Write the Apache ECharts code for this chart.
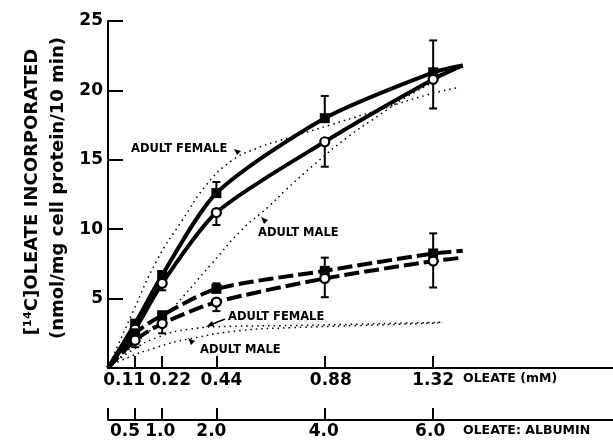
<!DOCTYPE html>
<html>
<head>
<meta charset="utf-8">
<script src="https://cdn.jsdelivr.net/npm/echarts@6/dist/echarts.min.js"></script>
<style>html,body{margin:0;padding:0;background:#fff}#c{width:613px;height:447px}</style>
</head>
<body>
<div id="c"></div>
<script>
// ---- data ----
const oleateMM = [0, 0.11, 0.22, 0.44, 0.88, 1.32, 1.44];
const femaleSolid = [0, 3.2, 6.7, 12.6, 18.0, 21.3, 21.8];
const maleSolid = [0, 2.8, 6.1, 11.2, 16.3, 20.8, 21.8];
const femaleDashed = [0, 2.5, 3.8, 5.7, 7.0, 8.25, 8.45];
const maleDashed = [0, 2.0, 3.2, 4.75, 6.45, 7.7, 7.95];

const errX = [0.11, 0.22, 0.44, 0.88, 1.32];
const femaleSolidErrTop = [null, null, 13.4, 19.6, 23.6];
const maleSolidErrBottom = [null, 5.6, 10.3, 14.5, 18.7];
const femaleDashedErrTop = [null, null, 6.1, 7.95, 9.7];
const maleDashedErrBottom = [1.5, 2.5, 4.1, 5.1, 5.8];

const femaleUpperDotX = [0, 0.1, 0.2, 0.3, 0.4, 0.5, 0.6, 0.7, 0.9, 1.1, 1.3, 1.42];
const femaleUpperDotY = [0, 4.0, 7.8, 10.6, 13.2, 14.9, 15.8, 16.4, 17.5, 18.6, 19.7, 20.2];
const maleUpperDotX = [0, 0.12, 0.24, 0.42, 0.54, 0.65, 0.72, 0.84, 0.97, 1.1, 1.2, 1.32];
const maleUpperDotY = [0, 1.9, 3.9, 7.5, 9.9, 11.6, 12.8, 14.7, 16.6, 18.2, 19.4, 20.6];
const femaleLowerDotX = [0, 0.1, 0.2, 0.33, 0.5, 0.7, 1.0, 1.36];
const femaleLowerDotY = [0, 1.3, 2.2, 2.8, 3.0, 3.05, 3.15, 3.3];
const maleLowerDotX = [0, 0.06, 0.2, 0.33, 0.54, 0.74, 1.0, 1.36];
const maleLowerDotY = [0, 0.6, 1.5, 2.1, 2.7, 2.9, 3.05, 3.25];

const mMTicks = [0.11, 0.22, 0.44, 0.88, 1.32];
const ratioTicks = [0, 0.5, 1.0, 2.0, 4.0, 6.0];
const ratioLabels = [0.5, 1.0, 2.0, 4.0, 6.0];
const ratioPerMM = 6.0 / 1.32;

// ---- helpers ----
const F = 'DejaVu Sans';
function pairs(xs, ys) { return xs.map((x, i) => [x, ys[i]]); }
function withBase(base, ends) {
  const out = [];
  errX.forEach((x, i) => { if (ends[i] != null) out.push([x, base[i + 1], ends[i]]); });
  return out;
}
function errSeries(data) {
  return {
    type: 'custom', xAxisIndex: 0, yAxisIndex: 0, z: 3, silent: true,
    encode: { x: 0, y: [1, 2] },
    renderItem: function (params, api) {
      const x = api.value(0), y0 = api.value(1), y1 = api.value(2);
      const p0 = api.coord([x, y0]), p1 = api.coord([x, y1]);
      return {
        type: 'group', children: [
          { type: 'line', shape: { x1: p0[0], y1: p0[1], x2: p1[0], y2: p1[1] }, style: { stroke: '#000', lineWidth: 2 } },
          { type: 'line', shape: { x1: p1[0] - 4, y1: p1[1], x2: p1[0] + 4, y2: p1[1] }, style: { stroke: '#000', lineWidth: 2 } }
        ]
      };
    },
    data: data
  };
}
function curve(xs, ys, style, smooth) {
  return {
    type: 'line', xAxisIndex: 0, yAxisIndex: 0, smooth: smooth,
    showSymbol: false, symbol: 'none', z: 2, silent: true, lineStyle: style, data: pairs(xs, ys)
  };
}
function markers(ys, symbol, filled) {
  return {
    type: 'scatter', xAxisIndex: 0, yAxisIndex: 0, z: 5, symbol: symbol, silent: true,
    symbolSize: symbol === 'rect' ? 10 : 9,
    itemStyle: filled ? { color: '#000', opacity: 1 } : { color: '#fff', borderColor: '#000', borderWidth: 2.2, opacity: 1 },
    data: pairs(oleateMM.slice(1, 6), ys.slice(1, 6))
  };
}

// label shifts (px) to mimic reference placement
const mMShift = { '0.11': -11, '0.22': 8, '0.44': 5, '0.88': 6, '1.32': 0 };
const ratioShift = { '0.5': -10, '1.0': -2, '2.0': -5, '4.0': -1, '6.0': -3 };
function richFor(shifts) {
  const r = {};
  Object.keys(shifts).forEach((k, i) => {
    const s = shifts[k];
    r['s' + i] = {
      fontFamily: F, fontWeight: 'bold', fontSize: 17, color: '#000',
      padding: s < 0 ? [0, -2 * s, 0, 0] : [0, 0, 0, 2 * s]
    };
  });
  return r;
}
function fmtFor(shifts, digits) {
  const keys = Object.keys(shifts);
  return function (v) {
    const t = v.toFixed(digits);
    const i = keys.indexOf(t);
    return i < 0 ? t : '{s' + i + '|' + t + '}';
  };
}

const labelStyle = { fontFamily: F, fontWeight: 'bold', fontSize: 11.5, fill: '#000' };
const dotStyle = { color: '#000', width: 1.5, type: [1.5, 4] };

const option = {
  animation: false,
  backgroundColor: '#fff',
  grid: { left: 108, right: 0, top: 21, bottom: 79, containLabel: false },
  xAxis: [
    {
      type: 'value', min: 0, max: 2.05, position: 'bottom',
      axisLine: { show: true, onZero: false, lineStyle: { color: '#000', width: 2 } },
      axisTick: { show: true, inside: true, length: 12, customValues: mMTicks, lineStyle: { color: '#000', width: 2 } },
      axisLabel: { show: true, customValues: mMTicks, margin: 4, formatter: fmtFor(mMShift, 2), rich: richFor(mMShift),
        fontFamily: F, fontWeight: 'bold', fontSize: 17, color: '#000' },
      splitLine: { show: false }
    },
    {
      type: 'value', min: 0, max: 2.05 * ratioPerMM, position: 'bottom', offset: 52,
      axisLine: { show: true, onZero: false, lineStyle: { color: '#000', width: 2 } },
      axisTick: { show: true, inside: true, length: 12, customValues: ratioTicks, lineStyle: { color: '#000', width: 2 } },
      axisLabel: { show: true, customValues: ratioLabels, margin: 3, formatter: fmtFor(ratioShift, 1), rich: richFor(ratioShift),
        fontFamily: F, fontWeight: 'bold', fontSize: 17, color: '#000' },
      splitLine: { show: false }
    }
  ],
  yAxis: {
    type: 'value', min: 0, max: 25, interval: 5,
    axisLine: { show: true, lineStyle: { color: '#000', width: 2 } },
    axisTick: { show: true, inside: true, length: 15, lineStyle: { color: '#000', width: 2 } },
    axisLabel: { margin: 5, fontFamily: F, fontWeight: 'bold', fontSize: 17, color: '#000',
      formatter: function (v) { return v === 0 ? '' : String(v); } },
    splitLine: { show: false }
  },
  series: [
    curve(femaleUpperDotX, femaleUpperDotY, dotStyle, 0.5),
    curve(maleUpperDotX, maleUpperDotY, dotStyle, 0.5),
    curve(femaleLowerDotX, femaleLowerDotY, dotStyle, 0.5),
    curve(maleLowerDotX, maleLowerDotY, dotStyle, 0.5),
    curve(oleateMM, femaleSolid, { color: '#000', width: 4 }, 0.25),
    curve(oleateMM, maleSolid, { color: '#000', width: 4 }, 0.25),
    curve(oleateMM, femaleDashed, { color: '#000', width: 4, type: [15, 5] }, 0.25),
    curve(oleateMM, maleDashed, { color: '#000', width: 4, type: [15, 5] }, 0.25),
    errSeries(withBase(femaleSolid, femaleSolidErrTop)),
    errSeries(withBase(maleSolid, maleSolidErrBottom)),
    errSeries(withBase(femaleDashed, femaleDashedErrTop)),
    errSeries(withBase(maleDashed, maleDashedErrBottom)),
    markers(femaleSolid, 'rect', true),
    markers(maleSolid, 'circle', false),
    markers(femaleDashed, 'rect', true),
    markers(maleDashed, 'circle', false)
  ],
  graphic: [
    { type: 'text', x: 32, y: 192, rotation: Math.PI / 2,
      style: { text: '[\u00b9\u2074C]OLEATE INCORPORATED', fontFamily: F, fontWeight: 'bold', fontSize: 18, fill: '#000', align: 'center', verticalAlign: 'middle' } },
    { type: 'text', x: 58, y: 188, rotation: Math.PI / 2,
      style: { text: '(nmol/mg cell protein/10 min)', fontFamily: F, fontWeight: 'bold', fontSize: 18, fill: '#000', align: 'center', verticalAlign: 'middle' } },
    { type: 'text', x: 463, y: 379, style: { text: 'OLEATE (mM)', fontFamily: F, fontWeight: 'bold', fontSize: 12.5, fill: '#000', align: 'left', verticalAlign: 'middle' } },
    { type: 'text', x: 463, y: 431, style: { text: 'OLEATE: ALBUMIN', fontFamily: F, fontWeight: 'bold', fontSize: 12.5, fill: '#000', align: 'left', verticalAlign: 'middle' } },
    { type: 'text', x: 131, y: 149, style: Object.assign({ text: 'ADULT FEMALE', align: 'left', verticalAlign: 'middle' }, labelStyle) },
    { type: 'text', x: 258, y: 233, style: Object.assign({ text: 'ADULT MALE', align: 'left', verticalAlign: 'middle' }, labelStyle) },
    { type: 'text', x: 228, y: 317, style: Object.assign({ text: 'ADULT FEMALE', align: 'left', verticalAlign: 'middle' }, labelStyle) },
    { type: 'text', x: 200, y: 350, style: Object.assign({ text: 'ADULT MALE', align: 'left', verticalAlign: 'middle' }, labelStyle) },
    // arrowheads
    { type: 'polygon', shape: { points: [[234, 149], [241, 151], [237, 155]] }, style: { fill: '#000' } },
    { type: 'polygon', shape: { points: [[261, 217], [268, 220], [264, 224]] }, style: { fill: '#000' } },
    { type: 'line', shape: { x1: 225, y1: 319, x2: 210, y2: 325 }, style: { stroke: '#000', lineWidth: 1.5 } },
    { type: 'polygon', shape: { points: [[206, 327], [212, 321], [214, 326]] }, style: { fill: '#000' } },
    { type: 'polygon', shape: { points: [[188, 338], [195, 341], [191, 345]] }, style: { fill: '#000' } }
  ]
};

const chart = echarts.init(document.getElementById('c'), null, { renderer: 'canvas' });
chart.setOption(option);
</script>
</body>
</html>
